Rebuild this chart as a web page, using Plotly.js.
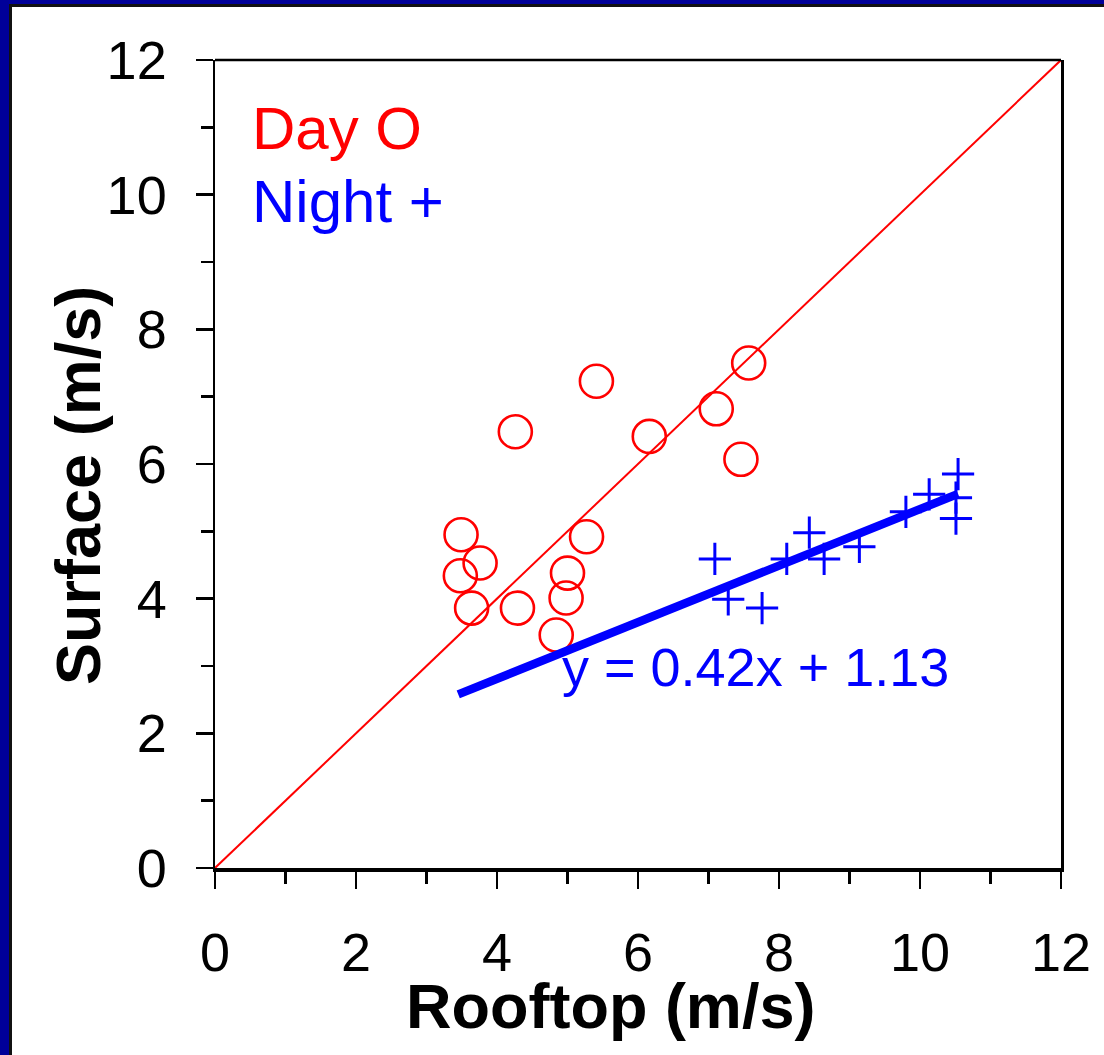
<!DOCTYPE html>
<html>
<head>
<meta charset="utf-8">
<script src="https://cdn.plot.ly/plotly-3.0.1.min.js"></script>
<style>
  html, body { margin: 0; padding: 0; width: 1104px; height: 1055px; overflow: hidden; background: #000099; }
  #frame { position: absolute; left: 9px; top: 4px; width: 1095px; height: 1051px; background: #111111; }
  #plot { position: absolute; left: 12px; top: 7px; width: 1092px; height: 1048px; background: #ffffff; }
</style>
</head>
<body>
<div id="frame"></div>
<div id="plot"></div>
<script>
// Day observations (red circles)
const dayX = [7.57, 5.41, 4.26, 7.11, 6.16, 7.46, 3.49, 3.76, 3.48, 3.64, 4.29, 5.27, 5.00, 4.98, 4.84];
const dayY = [7.50, 7.23, 6.48, 6.82, 6.41, 6.07, 4.95, 4.53, 4.34, 3.86, 3.86, 4.92, 4.38, 4.01, 3.46];
// Night observations (blue crosses)
const nightX = [10.54, 10.13, 10.51, 10.51, 9.80, 7.09, 8.11, 8.43, 8.64, 9.14, 7.28, 7.76];
const nightY = [5.85, 5.55, 5.50, 5.19, 5.29, 4.59, 4.59, 4.98, 4.59, 4.77, 3.99, 3.86];
// 1:1 reference line
const oneToOne = [0, 12];
// Night regression fit
const fitSlope = 0.42;
const fitIntercept = 1.13;
const fitX = [3.45, 10.54];
const fitY = fitX.map(x => fitSlope * x + fitIntercept);
// Axis ticks
const tickVals = [0, 2, 4, 6, 8, 10, 12];
const tickText = ["0", "2", "4", "6", "8", "10", "12"];
const labels = { x: "Rooftop (m/s)", y: "Surface (m/s)", day: "Day O", night: "Night +", eq: "y = 0.42x + 1.13" };

const FONT = '"Liberation Sans", Arial, Helvetica, sans-serif';

const traces = [
  { x: oneToOne, y: oneToOne, mode: 'lines', line: { color: '#ff0000', width: 2 }, hoverinfo: 'skip', showlegend: false },
  { x: dayX, y: dayY, mode: 'markers', name: 'Day',
    marker: { symbol: 'circle-open', size: 33, color: '#ff0000', line: { color: '#ff0000', width: 2.6 } }, showlegend: false },
  { x: nightX, y: nightY, mode: 'markers', name: 'Night',
    marker: { symbol: 'cross-thin-open', size: 23, color: '#0000ff', line: { color: '#0000ff', width: 3 } }, showlegend: false },
  { x: fitX, y: fitY, mode: 'lines', line: { color: '#0000ff', width: 8.5 }, hoverinfo: 'skip', showlegend: false }
];

const axisCommon = {
  range: [0, 12],
  tickmode: 'array',
  tickvals: tickVals,
  ticktext: tickText,
  ticks: 'outside',
  ticklen: 17,
  tickwidth: 2.5,
  tickcolor: '#000',
  minor: { dtick: 1, tick0: 0, ticks: 'outside', ticklen: 12, tickwidth: 2.5, tickcolor: '#000', showgrid: false },
  showgrid: false,
  zeroline: false,
  showline: true,
  linecolor: '#000',
  tickfont: { family: FONT, size: 54, color: '#000' },
  fixedrange: true
};

const layout = {
  width: 1092,
  height: 1048,
  margin: { l: 203, r: 43, t: 53, b: 187, pad: 0 },
  paper_bgcolor: '#ffffff',
  plot_bgcolor: '#ffffff',
  showlegend: false,
  xaxis: Object.assign({}, axisCommon, { linewidth: 3.5, mirror: false, ticklabelstandoff: 18 }),
  yaxis: Object.assign({}, axisCommon, { linewidth: 2.5, mirror: true, ticklabelstandoff: 18 }),
  shapes: [
    { type: 'line', xref: 'paper', yref: 'paper', x0: 0, x1: 1, y0: 1, y1: 1, line: { color: '#000', width: 2.5 } }
  ],
  annotations: [
    { text: labels.x, xref: 'paper', yref: 'paper', x: 0.467, y: -0.171, xanchor: 'center', yanchor: 'middle',
      showarrow: false, font: { family: FONT, size: 63, color: '#000', weight: 'bold' } },
    { text: labels.y, xref: 'paper', yref: 'paper', x: -0.162, y: 0.474, xanchor: 'center', yanchor: 'middle',
      textangle: -90, showarrow: false, font: { family: FONT, size: 63, color: '#000', weight: 'bold' } },
    { text: labels.day, xref: 'x', yref: 'y', x: 0.50, y: 10.98, xanchor: 'left', yanchor: 'middle',
      showarrow: false, font: { family: FONT, size: 60, color: '#ff0000' } },
    { text: labels.night, xref: 'x', yref: 'y', x: 0.50, y: 9.90, xanchor: 'left', yanchor: 'middle',
      showarrow: false, font: { family: FONT, size: 60, color: '#0000ff' } },
    { text: labels.eq, xref: 'x', yref: 'y', x: 4.89, y: 2.98, xanchor: 'left', yanchor: 'middle',
      showarrow: false, font: { family: FONT, size: 54, color: '#0000ff' } }
  ]
};

Plotly.newPlot('plot', traces, layout, { displayModeBar: false, staticPlot: true });
</script>
</body>
</html>
